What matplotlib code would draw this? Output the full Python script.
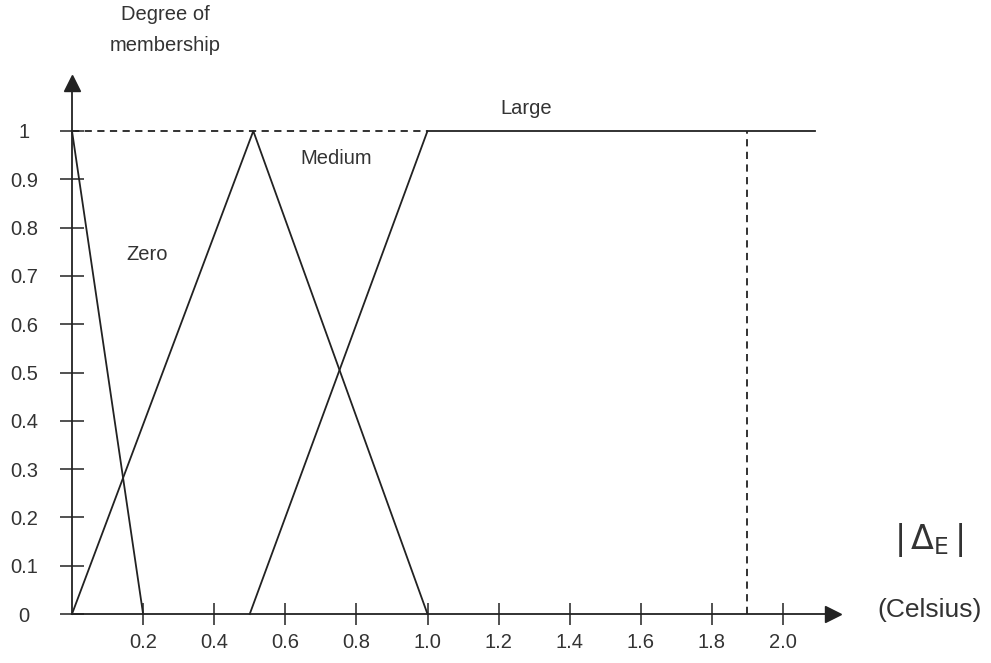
import matplotlib
matplotlib.use("Agg")
import matplotlib.pyplot as plt

# Data
zero_x = [0.0, 0.2]
zero_y = [1.0, 0.0]
medium_x = [0.0, 0.51, 1.0]
medium_y = [0.0, 1.0, 0.0]
large_x = [0.5, 1.0, 2.09]
large_y = [0.0, 1.0, 1.0]
hdash_x = [0.0, 1.0]
hdash_y = [1.0, 1.0]
vdash_x = [1.9, 1.9]
vdash_y = [0.0, 1.0]
xticks = [0.2, 0.4, 0.6, 0.8, 1.0, 1.2, 1.4, 1.6, 1.8, 2.0]
xtick_labels = ["0.2", "0.4", "0.6", "0.8", "1.0", "1.2", "1.4", "1.6", "1.8", "2.0"]
yticks = [0, 0.1, 0.2, 0.3, 0.4, 0.5, 0.6, 0.7, 0.8, 0.9, 1.0]
ytick_labels = ["0", "0.1", "0.2", "0.3", "0.4", "0.5", "0.6", "0.7", "0.8", "0.9", "1"]

plt.rcParams['font.family'] = ['Liberation Sans', 'DejaVu Sans']
W, H = 991, 663
fig = plt.figure(figsize=(W / 100, H / 100), dpi=100)

x0px, y0px = 72, 614
ux, uy = 355.5, 483.0
xmax, ymax = 2.14, 1.10
ax = fig.add_axes([x0px / W, (H - y0px) / H, xmax * ux / W, ymax * uy / H])
ax.set_xlim(0, xmax)
ax.set_ylim(0, ymax)

lc = '#222222'
tc = '#333333'
lw = 1.3

ax.plot(zero_x, zero_y, color=lc, lw=lw, clip_on=False)
ax.plot(medium_x, medium_y, color=lc, lw=lw, clip_on=False)
ax.plot(large_x, large_y, color=lc, lw=lw, clip_on=False)
ax.plot(hdash_x, hdash_y, color=lc, lw=lw, ls=(0, (4, 3)), clip_on=False)
ax.plot(vdash_x, vdash_y, color=lc, lw=lw, ls=(0, (4, 3)), clip_on=False)

for s in ['top', 'right']:
    ax.spines[s].set_visible(False)
for s in ['left', 'bottom']:
    ax.spines[s].set_color(lc)
    ax.spines[s].set_linewidth(lw)

# arrowheads
ax.plot(1, 0, marker='>', color=lc, ms=11, transform=ax.get_yaxis_transform(), clip_on=False)
ax.plot(0, 1, marker='^', color=lc, ms=11, transform=ax.get_xaxis_transform(), clip_on=False)

ax.set_xticks(xticks)
ax.set_xticklabels(xtick_labels)
ax.set_yticks(yticks)
ax.set_yticklabels(ytick_labels)
ax.tick_params(axis='x', direction='inout', length=16, width=1.1, color=lc,
               pad=6, labelsize=14.5, labelcolor=tc)
ax.tick_params(axis='y', direction='inout', length=17, width=1.1, color=lc,
               pad=26, labelsize=14.5, labelcolor=tc)
for t in ax.get_yticklabels():
    t.set_horizontalalignment('center')

ax.patch.set_alpha(0)

def px(x, y):
    return (x / W, 1 - y / H)

fig.text(*px(165, 30), "Degree of\nmembership", ha='center', va='center',
         fontsize=14.5, color=tc, linespacing=1.8)
fig.text(*px(147, 255), "Zero", ha='center', va='center', fontsize=14.5, color=tc)
fig.text(*px(336, 158), "Medium", ha='center', va='center', fontsize=14.5, color=tc)
fig.text(*px(526, 108), "Large", ha='center', va='center', fontsize=14.5, color=tc)
fig.text(*px(929, 540), r"$|\,\Delta_{\mathrm{E}}\,|$", ha='center', va='center',
         fontsize=24, color=tc, math_fontfamily='dejavusans')
fig.text(*px(930, 610), "(Celsius)", ha='center', va='center', fontsize=19, color=tc)

fig.savefig("out.png", dpi=100)
